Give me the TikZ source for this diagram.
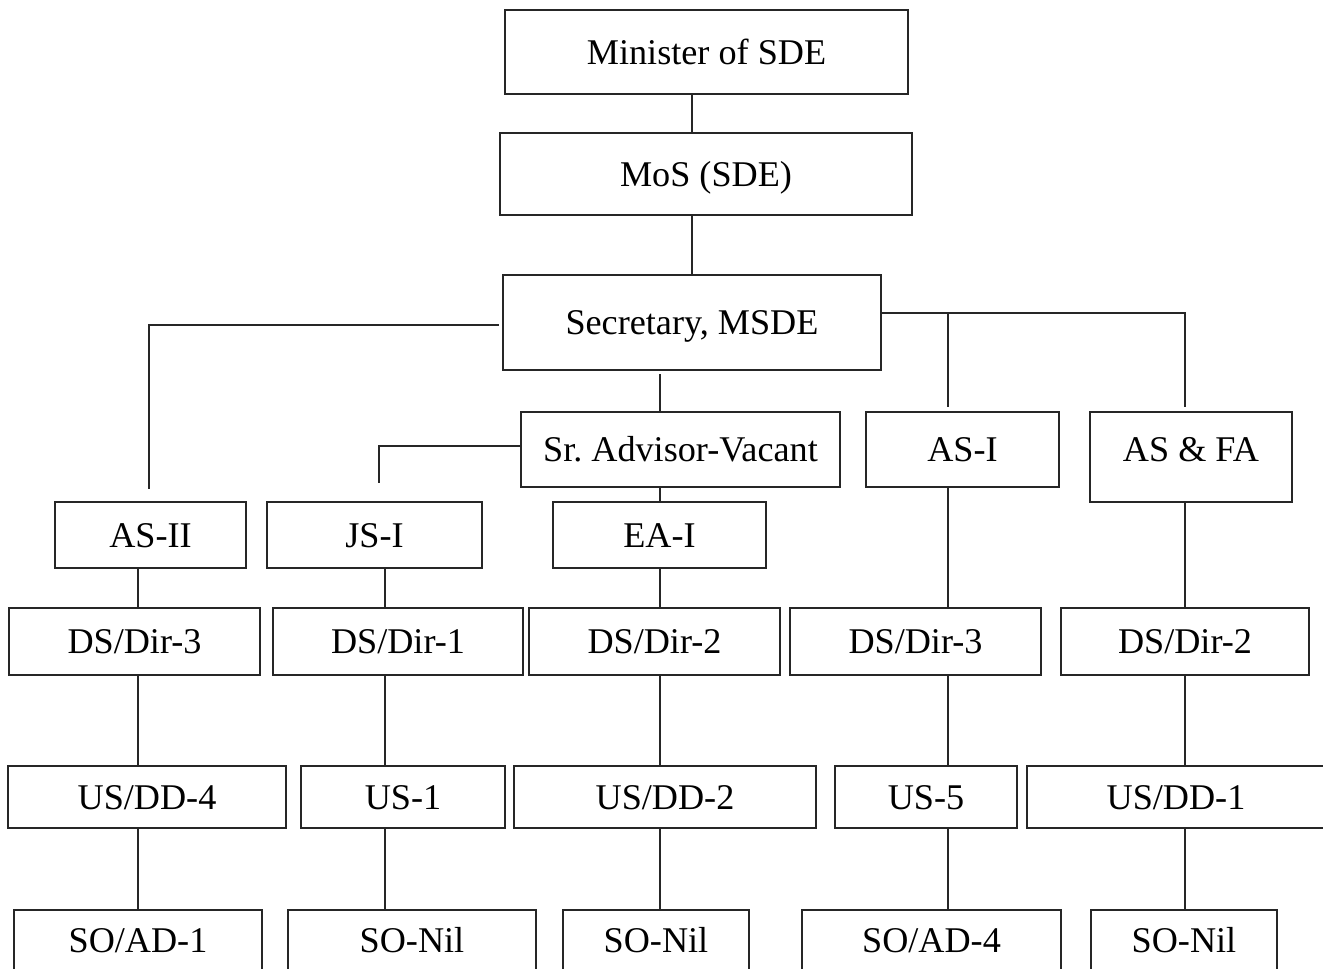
\documentclass[tikz,border=0pt]{standalone}
\usepackage{fontspec}
\setmainfont{Liberation Serif}
\usepackage{tikz}
\usetikzlibrary{positioning}
\tikzset{
    post/.style = {rectangle, draw=black!85, line width=1.5pt, inner sep=0pt, text height=0.48cm, text depth=0pt, font=\fontsize{20.6}{24}\selectfont},
    dims/.style 2 args = {minimum width=#1*0.02cm, minimum height=#2*0.02cm},
    link/.style = {draw=black!85, line width=1.2pt},
}

\begin{document}
\begin{tikzpicture}[x=0.02cm, y=-0.02cm]
\useasboundingbox (0,0) rectangle (1323,968);
%
% top of the ministry
\node[post, dims={403}{84}] at (706.5, 52) (min) {Minister of SDE};
\node[post, dims={412}{82}] at (706, 174) (mos) {MoS (SDE)};
\node[post, dims={378}{95}] at (692, 322.5) (sec) {Secretary, MSDE};
%
\node[post, dims={319}{75}] at (680.5, 449.5) (sradv) {Sr.\ Advisor-Vacant};
\node[post, dims={193}{75}] at (962.5, 449.5) (asone) {AS-I};
\node[post, dims={202}{90}, text depth=0.3cm] at (1191, 457) (asfa) {AS \& FA};
%
\node[post, dims={191}{66}] at (150.5, 535) (astwo) {AS-II};
\node[post, dims={215}{66}] at (374.5, 535) (jsone) {JS-I};
\node[post, dims={213}{66}] at (659.5, 535) (eaone) {EA-I};
%
% directors
\node[post, dims={251}{67}] at (134.5, 641.5) (ds3a) {DS/Dir-3};
\node[post, dims={250}{67}] at (398, 641.5) (ds1) {DS/Dir-1};
\node[post, dims={251}{67}] at (654.5, 641.5) (ds2a) {DS/Dir-2};
\node[post, dims={251}{67}] at (915.5, 641.5) (ds3b) {DS/Dir-3};
\node[post, dims={248}{67}] at (1185, 641.5) (ds2b) {DS/Dir-2};
%
% under secretaries
\node[post, dims={278}{62}] at (147, 797) (us4) {US/DD-4};
\node[post, dims={204}{62}] at (403, 797) (us1) {US-1};
\node[post, dims={302}{62}] at (665, 797) (us2) {US/DD-2};
\node[post, dims={182}{62}] at (926, 797) (us5) {US-5};
\node[post, dims={298}{62}] at (1176, 797) (usdd1) {US/DD-1};
%
% section officers
\node[post, dims={248}{60}] at (138, 940) (so1) {SO/AD-1};
\node[post, dims={248}{60}] at (412, 940) (sonil1) {SO-Nil};
\node[post, dims={186}{60}] at (656, 940) (sonil2) {SO-Nil};
\node[post, dims={259}{60}] at (931.5, 940) (so4) {SO/AD-4};
\node[post, dims={186}{60}] at (1184, 940) (sonil3) {SO-Nil};
%
% column lines
\coordinate (c1) at (138, 0);
\coordinate (c2) at (385, 0);
\coordinate (c3) at (660, 0);
\coordinate (c4) at (948, 0);
\coordinate (c5) at (1185, 0);
\coordinate (rbus) at ([yshift=0.19cm]sec.east);
%
\draw[link] (min.south -| sec) -- (mos.north -| sec);
\draw[link] (mos.south -| sec) -- (sec.north);
\draw[link, shorten <=0.06cm] (sec.south -| c3) -- (sradv.north -| c3);
\draw[link, shorten <=0.06cm, shorten >=0.24cm] ([yshift=-0.05cm]sec.west) -| ([xshift=-0.03cm]astwo.north);
\draw[link, shorten >=0.08cm] (rbus) -| (asfa.north -| c5);
\draw[link, shorten >=0.08cm] (rbus -| c4) -- (asone.north -| c4);
\draw[link, shorten >=0.36cm] ([yshift=0.07cm]sradv.west) -| ([xshift=0.09cm]jsone.north);
\draw[link] (sradv.south -| c3) -- (eaone.north -| c3);
%
\draw[link] (astwo.south -| c1) -- (ds3a.north -| c1);
\draw[link] (ds3a.south -| c1) -- (us4.north -| c1);
\draw[link] (us4.south -| c1) -- (so1.north -| c1);
%
\draw[link] (jsone.south -| c2) -- (ds1.north -| c2);
\draw[link] (ds1.south -| c2) -- (us1.north -| c2);
\draw[link] (us1.south -| c2) -- (sonil1.north -| c2);
%
\draw[link] (eaone.south -| c3) -- (ds2a.north -| c3);
\draw[link] (ds2a.south -| c3) -- (us2.north -| c3);
\draw[link] (us2.south -| c3) -- (sonil2.north -| c3);
%
\draw[link] (asone.south -| c4) -- (ds3b.north -| c4);
\draw[link] (ds3b.south -| c4) -- (us5.north -| c4);
\draw[link] (us5.south -| c4) -- (so4.north -| c4);
%
\draw[link] (asfa.south -| c5) -- (ds2b.north -| c5);
\draw[link] (ds2b.south -| c5) -- (usdd1.north -| c5);
\draw[link] (usdd1.south -| c5) -- (sonil3.north -| c5);

\end{tikzpicture}
\end{document}
